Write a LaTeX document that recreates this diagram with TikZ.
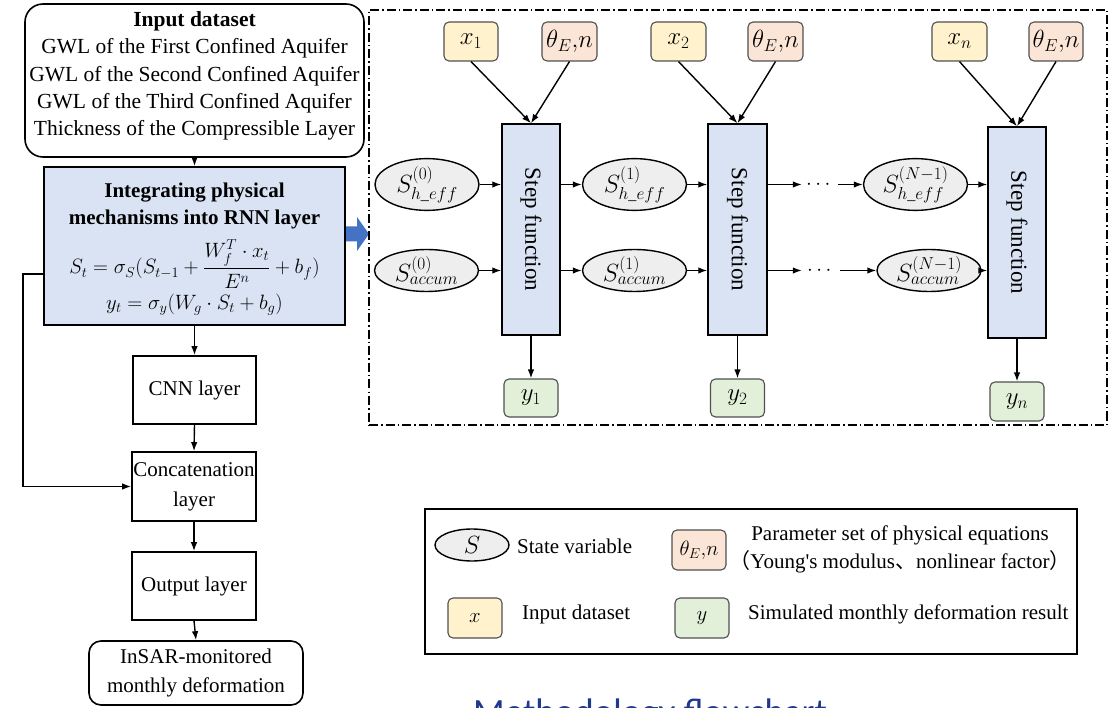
\documentclass[tikz,border=0pt]{standalone}
\usepackage{amsmath}
\usepackage{fontspec}
\setmainfont{Liberation Serif}
\newfontfamily\cjk{Noto Sans CJK SC}
\newfontfamily\titlefont{Carlito}
\usetikzlibrary{arrows.meta,shapes.geometric}
\definecolor{stepblue}{RGB}{218,227,243}
\definecolor{leftblue}{RGB}{218,227,243}
\definecolor{xyellow}{RGB}{255,242,204}
\definecolor{thpeach}{RGB}{251,229,214}
\definecolor{ygreen}{RGB}{226,240,217}
\definecolor{ellgray}{RGB}{238,238,238}
\definecolor{arrowblue}{RGB}{68,114,196}
\definecolor{navy}{RGB}{32,56,140}
\definecolor{tagedge}{RGB}{80,80,80}
\begin{document}
\begin{tikzpicture}[x=1pt,y=-1pt,
  txt/.style={font=\fontsize{21.5}{27.3}\selectfont, inner sep=0, align=center},
  flowbox/.style={draw, line width=1.6pt, inner sep=0, font=\fontsize{21}{30}\selectfont, align=center},
  arr/.style={draw, line width=1.4pt, -{Latex[length=9pt,width=6.5pt]}},
  stepbox/.style={draw, fill=stepblue, line width=1.5pt, minimum width=58pt, minimum height=211pt, inner sep=0,
    label={[font=\fontsize{23}{27}\selectfont, rotate=-90]center:Step function}},
  stateell/.style={ellipse, draw, fill=ellgray, line width=1.4pt, minimum width=104pt, minimum height=42pt, inner sep=0,
    font=\fontsize{23}{26}\selectfont},
  tagbox/.style={draw=tagedge, rounded corners=5pt, line width=1.1pt, minimum width=55pt, minimum height=39pt, inner sep=0,
    font=\fontsize{24}{27}\selectfont},
  legtxt/.style={font=\fontsize{21}{28}\selectfont, inner sep=0, align=center},
  dotsnode/.style={inner sep=0, minimum width=36pt, font=\fontsize{21}{25}\selectfont}
]
\useasboundingbox (0,0) rectangle (1111,708);

% ---------------- left column ----------------
\node[draw, line width=1.6pt, rounded corners=18pt, minimum width=339pt, minimum height=153pt, inner sep=0] (input) at (194.5,80.5) {};
\node[txt] (inputtxt) at (194.5,76) {\textbf{Input dataset}\\GWL of the First Confined Aquifer\\GWL of the Second Confined Aquifer\\GWL of the Third Confined Aquifer\\Thickness of the Compressible Layer};

\node[draw, fill=leftblue, line width=1.8pt, minimum width=301pt, minimum height=158pt, inner sep=0] (blue) at (194.5,246) {};
\node[txt, font=\fontsize{21}{27}\selectfont\bfseries] (bluetitle) at (194.5,206) {Integrating physical\\mechanisms into RNN layer};
\node[txt, font=\fontsize{21}{24}\selectfont] (eqone) at (194.5,264) {$S_t=\sigma_S(S_{t-1}+\dfrac{W_f^T\cdot x_t}{E^n}+b_f)$};
\node[txt, font=\fontsize{21}{24}\selectfont] (eqtwo) at (194.5,305) {$y_t=\sigma_y(W_g\cdot S_t+b_g)$};
\coordinate (fb) at (44,274);

\node[flowbox, minimum width=123pt, minimum height=68pt] (cnn) at (194.5,390) {CNN layer};
\node[flowbox, minimum width=124pt, minimum height=69pt] (concat) at (194,486.5) {Concatenation\\layer};
\node[flowbox, minimum width=124pt, minimum height=68pt] (output) at (194,586) {Output layer};
\node[flowbox, rounded corners=12pt, minimum width=214pt, minimum height=64pt, font=\fontsize{21}{29}\selectfont] (insar) at (196,673) {InSAR-monitored\\monthly deformation};

\draw[arr] (input.south) -- (blue.north);
\draw[arr] (blue.south) -- (cnn.north);
\draw[arr] (cnn.south) -- (concat.north);
\draw[arr] (concat.south) -- (output.north);
\draw[arr] (output.south) -- (insar.north);
\draw[arr] (fb) -- ++(-21,0) |- (concat.west);

% blue arrow
\fill[arrowblue] (346,226.5) -- (357,226.5) -- (357,217) -- (369,234) -- (357,251) -- (357,241.5) -- (346,241.5) -- cycle;

% ---------------- right frame ----------------
\node[draw, line width=1.4pt, dash pattern=on 9pt off 3pt on 1.5pt off 3pt, minimum width=738pt, minimum height=415pt, inner sep=0] (frame) at (738,217.5) {};

\node[stepbox] (step1) at (531,229.5) {};
\node[stepbox, minimum width=59pt] (step2) at (737.5,229.5) {};
\node[stepbox] (step3) at (1017,232.5) {};

\node[tagbox, fill=xyellow, minimum width=54pt] (x1) at (471,41.5) {$x_1$};
\node[tagbox, fill=thpeach] (th1) at (569.5,41.5) {$\theta_E{,}n$};
\node[tagbox, fill=xyellow] (x2) at (678.5,41.5) {$x_2$};
\node[tagbox, fill=thpeach] (th2) at (775.5,41.5) {$\theta_E{,}n$};
\node[tagbox, fill=xyellow] (xn) at (959.5,41.5) {$x_n$};
\node[tagbox, fill=thpeach, minimum width=54pt] (th3) at (1056,41.5) {$\theta_E{,}n$};

\draw[arr] (x1.south) -- (step1.north);
\draw[arr] (th1.south) -- (step1.north);
\draw[arr] (x2.south) -- (step2.north);
\draw[arr] (th2.south) -- (step2.north);
\draw[arr] (xn.south) -- (step3.north);
\draw[arr] (th3.south) -- (step3.north);

\node[stateell] (e0) at (427,184.5) {$S^{(0)}_{h\_eff}$};
\node[stateell] (e1) at (634.5,184.5) {$S^{(1)}_{h\_eff}$};
\node[stateell] (eN) at (915.5,184.5) {$S^{(N-1)}_{h\_eff}$};
\node[stateell] (a0) at (426.5,270.5) {$S^{(0)}_{accum}$};
\node[stateell] (a1) at (634.5,270.5) {$S^{(1)}_{accum}$};
\node[stateell] (aN) at (929,270.5) {$S^{(N-1)}_{accum}$};
\node[dotsnode] (hdots) at (820,184.5) {$\cdots$};
\node[dotsnode, minimum width=38pt] (adots) at (821,270.5) {$\cdots$};

\draw[arr] (e0.east) -- (e0 -| step1.west);
\draw[arr] (step1.east |- e1) -- (e1.west);
\draw[arr] (e1.east) -- (e1 -| step2.west);
\draw[arr] (step2.east |- hdots) -- (hdots.west);
\draw[arr] (hdots.east) -- (eN.west);
\draw[arr] (eN.east) -- (eN -| step3.west);

\draw[arr] (a0.east) -- (a0 -| step1.west);
\draw[arr] (step1.east |- a1) -- (a1.west);
\draw[arr] (a1.east) -- (a1 -| step2.west);
\draw[arr] (step2.east |- adots) -- (adots.west);
\draw[arr] (adots.east) -- (aN.west);
\draw[arr] (aN.east) -- (aN -| step3.west);

\node[tagbox, fill=ygreen, minimum width=54pt, minimum height=38pt] (y1) at (531,398) {$y_1$};
\node[tagbox, fill=ygreen, minimum width=54pt, minimum height=38pt] (y2) at (737.5,398) {$y_2$};
\node[tagbox, fill=ygreen, minimum width=54pt] (yn) at (1017,401.5) {$y_n$};
\draw[arr] (step1.south) -- (y1.north);
\draw[arr] (step2.south) -- (y2.north);
\draw[arr] (step3.south) -- (yn.north);

% ---------------- legend ----------------
\node[draw, line width=1.6pt, minimum width=652pt, minimum height=145pt, inner sep=0] (legend) at (751,581.5) {};
\node[stateell, minimum width=74pt, minimum height=32pt] (lS) at (472,545) {$S$};
\node[legtxt, anchor=west] (lStxt) at (517,546) {State variable};
\node[tagbox, fill=thpeach, minimum width=54pt, minimum height=40pt, font=\fontsize{22}{26}\selectfont] (lth) at (699,550) {$\theta_E{,}n$};
\node[legtxt] (lthtxt) at (900,549) {Parameter set of physical equations\\{\cjk （}Young\textquotesingle s modulus{\cjk 、}nonlinear factor{\cjk ）}};
\node[tagbox, fill=xyellow, minimum width=54pt, minimum height=40pt, font=\fontsize{22}{26}\selectfont] (lx) at (475,618) {$x$};
\node[legtxt, anchor=west] (lxtxt) at (522,614) {Input dataset};
\node[tagbox, fill=ygreen, minimum width=54pt, minimum height=40pt, font=\fontsize{22}{26}\selectfont] (ly) at (702,618) {$y$};
\node[legtxt, anchor=west] (lytxt) at (748,614) {Simulated monthly deformation result};

\node[anchor=base west, inner sep=0, text=navy, font=\titlefont\fontsize{37}{40}\selectfont] (title) at (473,724) {Methodology flowchart};
\end{tikzpicture}
\end{document}
